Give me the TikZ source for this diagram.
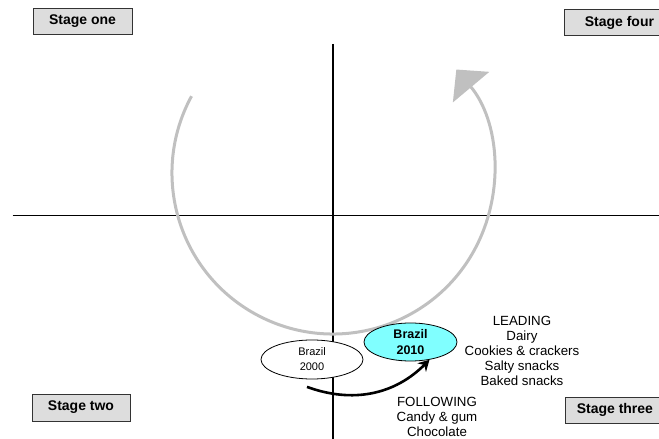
\documentclass[tikz,border=0pt]{standalone}
\usepackage{fontspec}
\setmainfont{Liberation Sans}
\usetikzlibrary{arrows.meta,shapes.geometric}
\definecolor{stagegray}{RGB}{221,221,221}
\definecolor{cyclegray}{RGB}{192,192,192}
\definecolor{brazilcyan}{RGB}{128,255,255}
\begin{document}
\begin{tikzpicture}[x=1pt,y=1pt,
    stagebox/.style={draw=black!80,fill=stagegray,line width=0.8pt,minimum height=26,inner sep=0pt,font=\fontsize{14}{16}\selectfont\bfseries},
    country/.style={draw,ellipse,inner sep=0pt,line width=0.8pt,align=center},
    catlist/.style={align=center,font=\fontsize{13.3}{15}\selectfont}]
    \useasboundingbox (0,0) rectangle (659,439);
    \draw[line width=1.5pt] (12.5,223.5) -- (659,223.5);
    \draw[line width=1.5pt] (333,395) -- (333,0);
    \draw[cyclegray,line width=3pt,-{Triangle[length=23pt,width=47pt]}] (191.5,342.8) arc[start angle=151.5,end angle=400,radius=161];
    \node[stagebox,minimum width=99] (one) at (82.5,418) {Stage one};
    \node[stagebox,minimum width=110,anchor=west] (four) at (564,416.5) {Stage four};
    \node[stagebox,minimum width=98,minimum height=27] (two) at (81,31.5) {Stage two};
    \node[stagebox,minimum width=99,anchor=west] (three) at (565,29) {Stage three};
    \node[country,fill=white,minimum width=102,minimum height=39,font=\fontsize{11}{15}\selectfont] (b2000) at (312,79.5) {Brazil\\2000};
    \node[country,fill=brazilcyan,minimum width=93,minimum height=38,font=\fontsize{12.5}{16}\selectfont\bfseries] (b2010) at (410.5,97) {Brazil\\2010};
    \node[catlist] (leading) at (522,88) {LEADING\\Dairy\\Cookies \& crackers\\Salty snacks\\Baked snacks};
    \node[catlist] (following) at (437,22.5) {FOLLOWING\\Candy \& gum\\Chocolate};
    \draw[line width=2.6pt,-{Stealth[length=11pt,width=12pt]}] ([shift={(-5,-7.5)}]b2000.south) to[out=-20,in=225] (b2010.-43);
\end{tikzpicture}
\end{document}
